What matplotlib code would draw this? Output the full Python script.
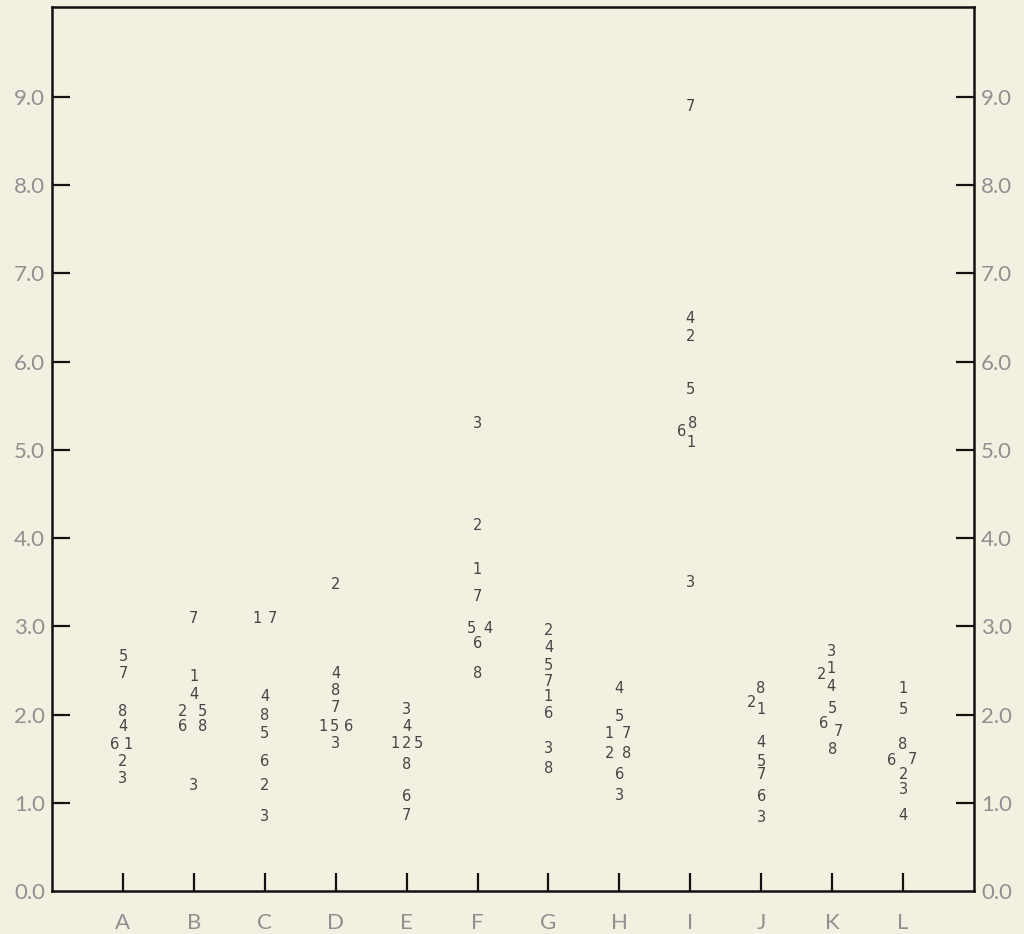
import numpy as np
import matplotlib
matplotlib.use('Agg')
import matplotlib.pyplot as plt

# categories along the bottom
categories = ['A', 'B', 'C', 'D', 'E', 'F', 'G', 'H', 'I', 'J', 'K', 'L']

# value of each numbered series at each category (A..L)
s1 = [1.66, 2.43, 3.09, 1.87, 1.67, 3.65, 2.21, 1.78, 5.08, 2.06, 2.52, 2.30]
s2 = [1.47, 2.04, 1.20, 3.48, 1.67, 4.14, 2.95, 1.56, 6.28, 2.14, 2.45, 1.32]
s3 = [1.27, 1.20, 0.84, 1.67, 2.06, 5.30, 1.61, 1.08, 3.50, 0.83, 2.72, 1.15]
s4 = [1.87, 2.23, 2.20, 2.47, 1.86, 2.98, 2.76, 2.29, 6.49, 1.68, 2.32, 0.86]
s5 = [2.66, 2.04, 1.78, 1.87, 1.67, 2.98, 2.56, 1.98, 5.69, 1.47, 2.07, 2.06]
s6 = [1.66, 1.86, 1.47, 1.87, 1.07, 2.81, 2.01, 1.32, 5.21, 1.07, 1.90, 1.48]
s7 = [2.47, 3.09, 3.09, 2.08, 0.86, 3.34, 2.38, 1.78, 8.89, 1.32, 1.81, 1.49]
s8 = [2.04, 1.86, 1.99, 2.27, 1.43, 2.47, 1.39, 1.56, 5.30, 2.30, 1.60, 1.66]
series = [s1, s2, s3, s4, s5, s6, s7, s8]

yticks = [0, 1, 2, 3, 4, 5, 6, 7, 8, 9]

# sideways nudges (pixels) where digits would overlap: (category, series) -> dx
nudge = {
    ('A', 6): -8, ('A', 1): 5,
    ('B', 2): -11, ('B', 5): 9, ('B', 6): -11, ('B', 8): 9,
    ('C', 1): -8, ('C', 7): 8,
    ('D', 1): -13, ('D', 5): -1, ('D', 6): 13,
    ('E', 1): -12, ('E', 5): 12,
    ('F', 5): -6, ('F', 4): 10,
    ('H', 1): -10, ('H', 7): 7, ('H', 2): -10, ('H', 8): 7,
    ('I', 6): -9, ('I', 8): 2, ('I', 1): 1,
    ('J', 2): -10, ('J', 8): -1,
    ('K', 3): -1, ('K', 1): -1, ('K', 2): -11, ('K', 4): -1, ('K', 6): -9, ('K', 7): 6,
    ('L', 6): -11, ('L', 7): 9,
}

bg = '#f3f0e2'
fig = plt.figure(figsize=(10.24, 9.34), dpi=100, facecolor=bg)
ax = fig.add_axes([0.0508, 0.046, 0.9004, 0.9465])
ax.set_facecolor(bg)

x = np.arange(1, len(categories) + 1)
for k, vals in enumerate(series, start=1):
    for xi, cat, v in zip(x, categories, vals):
        dx = nudge.get((cat, k), 0) * 0.72
        ax.annotate(str(k), xy=(xi, v), xytext=(dx, 0), textcoords='offset points',
                    ha='center', va='center', fontsize=10.5, color='#454545')

ax.set_xlim(0, 13)
ax.set_ylim(0, 10.02)
ax.set_xticks(x)
ax.set_xticklabels(categories)
ax.set_yticks(yticks)
ax.set_yticklabels([f'{t:.1f}' for t in yticks])

for sp in ax.spines.values():
    sp.set_linewidth(1.8)
    sp.set_color('#111111')

ax.tick_params(axis='both', direction='in', length=13, width=1.6, color='#111111',
               labelcolor='#909090', labelsize=16)
ax.tick_params(axis='x', pad=16)
ax.tick_params(axis='y', left=True, right=True, labelleft=True, labelright=True, pad=5)
for t in ax.xaxis.get_major_ticks() + ax.yaxis.get_major_ticks():
    for lab in (t.label1, t.label2):
        lab.set_family(['Lato', 'DejaVu Sans'])
        lab.set_weight('normal')
# no tick mark at 0.0, only the label
for t in ax.yaxis.get_major_ticks()[:1]:
    t.tick1line.set_visible(False)
    t.tick2line.set_visible(False)

plt.savefig('out.png', dpi=100, facecolor=bg)
plt.close()
